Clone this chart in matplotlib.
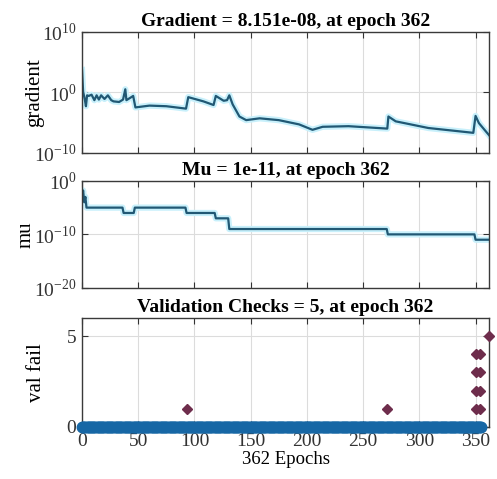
import numpy as np
import matplotlib
matplotlib.use('Agg')
from matplotlib import pyplot as plt
from matplotlib import ticker

# gradient (log10)
grad_epochs = [0, 1, 2.5, 3.5, 4.5, 6, 8.5, 11, 13, 15, 17, 20, 23, 26, 28, 33, 36.5, 38.5, 39.5,
               43, 45.5, 47.5, 60, 75, 92.5, 94.5, 108, 117, 119, 126, 129, 131, 134, 140, 146,
               158, 175, 193, 205, 214, 237, 271.5, 272.5, 279, 308, 348, 350, 353, 362]
grad_log = [3.7, 0.1, -1.2, -2.3, -0.5, -0.6, -0.4, -1.3, -0.5, -1.2, -0.5, -1.1, -0.5, -1.3, -1.5,
            -1.6, -1.2, 0.5, -1.3, -0.9, -0.6, -2.5, -2.2, -2.3, -2.7, -0.8, -1.5, -2.1, -0.6,
            -1.4, -1.3, -0.5, -2.0, -4.0, -4.6, -4.3, -4.6, -5.3, -6.2, -5.7, -5.6, -6.0, -4.0,
            -4.8, -5.9, -6.7, -3.9, -5.1, -7.09]

# mu (log10)
mu_epochs = [0, 1, 2, 3, 4, 36, 37, 46, 47, 92, 93, 118, 119, 130, 131, 271, 272, 349, 350, 362]
mu_log = [-3, -1.8, -4, -3, -5, -5, -6, -6, -5, -5, -6, -6, -7, -7, -9, -9, -10, -10, -11, -11]

# validation checks
zero_epochs = np.arange(0, 356)
fail_epochs = [93, 271, 350, 350, 350, 350, 354, 354, 354, 354, 362]
fail_values = [1, 1, 1, 2, 3, 4, 1, 2, 3, 4, 5]

xticks = [0, 50, 100, 150, 200, 250, 300, 350]

plt.rcParams['font.family'] = ['Liberation Serif', 'DejaVu Serif']
plt.rcParams['mathtext.fontset'] = 'custom'
plt.rcParams['mathtext.rm'] = 'Liberation Serif'

line_col = '#215874'
glow_col = '#c8f0fb'
edge_col = '#3a3a3a'


def style_axes(ax, show_xlabels=False):
    ax.set_xlim(0, 362)
    ax.set_xticks(xticks)
    if not show_xlabels:
        ax.set_xticklabels([])
    ax.tick_params(direction='in', length=4, width=0.8, top=True, right=True,
                   labelsize=14, colors='#333333', pad=4)
    ax.grid(True, color='#dcdcdc', linewidth=0.8)
    ax.set_axisbelow(True)
    for s in ax.spines.values():
        s.set_color(edge_col)
        s.set_linewidth(1.0)


fig = plt.figure(figsize=(4.97, 4.79), dpi=100)

# gradient
ax1 = fig.add_axes([0.165, 0.681, 0.819, 0.2526])
g = 10.0 ** np.array(grad_log)
ax1.plot(grad_epochs, g, color=glow_col, linewidth=4.5, solid_joinstyle='round')
ax1.plot(grad_epochs, g, color=line_col, linewidth=1.6)
ax1.set_yscale('log')
ax1.set_ylim(1e-10, 1e10)
ax1.set_yticks([1e-10, 1e0, 1e10])
ax1.yaxis.set_minor_locator(ticker.NullLocator())
ax1.set_yticklabels([r'$10^{-10}$', r'$10^{0}$', r'$10^{10}$'])
style_axes(ax1)
ax1.set_ylabel('gradient', fontsize=15)
ax1.yaxis.set_label_coords(-0.093, 0.5)
ax1.set_title('Gradient = 8.151e-08, at epoch 362', fontsize=14, fontweight='bold', pad=4)

# mu
ax2 = fig.add_axes([0.165, 0.399, 0.819, 0.2234])
m = 10.0 ** np.array(mu_log)
ax2.plot(mu_epochs, m, color=glow_col, linewidth=4.5)
ax2.plot(mu_epochs, m, color=line_col, linewidth=1.6)
ax2.set_yscale('log')
ax2.set_ylim(1e-20, 1e0)
ax2.set_yticks([1e-20, 1e-10, 1e0])
ax2.yaxis.set_minor_locator(ticker.NullLocator())
ax2.set_yticklabels([r'$10^{-20}$', r'$10^{-10}$', r'$10^{0}$'])
style_axes(ax2)
ax2.set_ylabel('mu', fontsize=15)
ax2.yaxis.set_label_coords(-0.115, 0.5)
ax2.set_title('Mu = 1e-11, at epoch 362', fontsize=14, fontweight='bold', pad=4)

# validation checks
ax3 = fig.add_axes([0.165, 0.1086, 0.819, 0.2276])
ax3.plot(zero_epochs, np.zeros(len(zero_epochs)), linestyle='none', marker='o',
         markersize=7.5, color='#1767a5', markeredgecolor='#1767a5', clip_on=False, zorder=3)
ax3.plot(fail_epochs, fail_values, linestyle='none', marker='D', markersize=5.5,
         color='#6e2d4c', markeredgecolor='#6e2d4c', clip_on=False, zorder=4)
ax3.set_ylim(0, 6)
ax3.set_yticks([0, 5])
style_axes(ax3, show_xlabels=True)
ax3.set_ylabel('val fail', fontsize=15)
ax3.yaxis.set_label_coords(-0.088, 0.5)
ax3.set_xlabel('362 Epochs', fontsize=13.5, labelpad=1)
ax3.set_title('Validation Checks = 5, at epoch 362', fontsize=14, fontweight='bold', pad=4)

fig.savefig('out.png', dpi=100)
